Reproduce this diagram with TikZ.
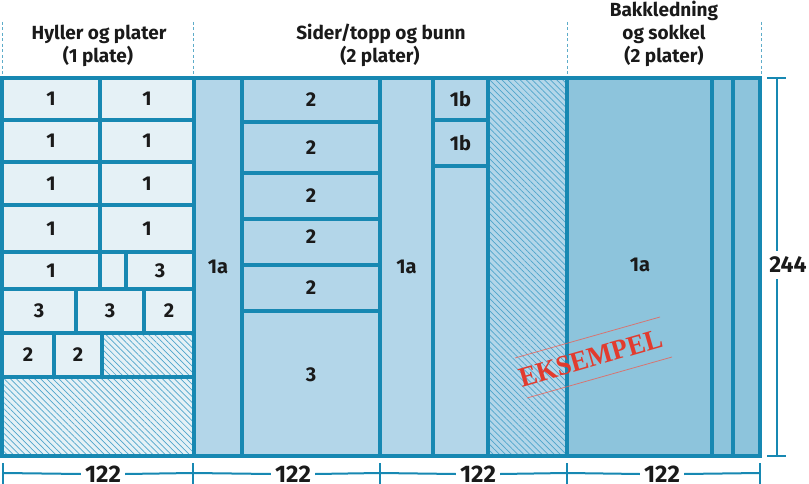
\documentclass[tikz,border=0pt]{standalone}
\usepackage{fontspec}
\setmainfont{Fira Sans}
\newfontfamily\stampfont{Liberation Serif}
\usetikzlibrary{patterns.meta}
\definecolor{edge}{HTML}{1788B2}
\definecolor{pone}{HTML}{E5F1F6}
\definecolor{ptwo}{HTML}{B3D6E9}
\definecolor{pfour}{HTML}{8DC4DC}
\definecolor{hatchc}{HTML}{4FA5CB}
\definecolor{ink}{HTML}{1A1A1A}
\definecolor{stampred}{HTML}{E23B2E}
\newcommand\cutpiece[7]{%
  \filldraw[piece,fill=#6] (#2,#3) rectangle (#4,#5);
  \node[lbl] (#1) at ({(#2+#4)/2},{(#3+#5)/2}) {#7};}
\newcommand\hatchpiece[6]{%
  \fill[#6] (#2,#3) rectangle (#4,#5);
  \path[pattern={Lines[angle=-45,distance=4.3pt,line width=0.7pt]},pattern color=hatchc] (#2,#3) rectangle (#4,#5);
  \draw[piece] (#2,#3) rectangle (#4,#5);
  \coordinate (#1) at ({(#2+#4)/2},{(#3+#5)/2});}
\begin{document}
\begin{tikzpicture}[x=1pt,y=-1pt,
  piece/.style={draw=edge,line width=3.2pt},
  lbl/.style={text=ink,font=\bfseries\fontsize{20}{22}\selectfont,inner sep=0pt},
  head/.style={text=ink,font=\bfseries\fontsize{19}{22}\selectfont,anchor=base,inner sep=0pt},
  dim/.style={draw=edge,line width=2pt},
  dimlbl/.style={text=ink,font=\bfseries\fontsize{24}{26}\selectfont,fill=white,inner xsep=4pt,inner ysep=2pt},
  guide/.style={draw=edge!70,line width=0.7pt,dash pattern=on 3pt off 2.5pt}]
\useasboundingbox (0,0) rectangle (809,484);
\fill[white] (0,0) rectangle (809,484);
% header guides
\foreach \gx in {2,193,567,761} \draw[guide] (\gx,22) -- (\gx,76);
% headers
\node[head] (hA1) at (99,40) {Hyller og plater};
\node[head] (hA2) at (98,63) {(1 plate)};
\node[head] (hB1) at (381,40) {Sider/topp og bunn};
\node[head] (hB2) at (380,63) {(2 plater)};
\node[head] (hC1) at (664,17) {Bakkledning};
\node[head] (hC2) at (664,40) {og sokkel};
\node[head] (hC3) at (664,63) {(2 plater)};
% plate 1
\cutpiece{a11}{2}{78}{100}{120}{pone}{1}
\cutpiece{a12}{100}{78}{194}{120}{pone}{1}
\cutpiece{a21}{2}{120}{100}{162}{pone}{1}
\cutpiece{a22}{100}{120}{194}{162}{pone}{1}
\cutpiece{a31}{2}{162}{100}{205}{pone}{1}
\cutpiece{a32}{100}{162}{194}{205}{pone}{1}
\cutpiece{a41}{2}{205}{100}{252}{pone}{1}
\cutpiece{a42}{100}{205}{194}{252}{pone}{1}
\cutpiece{a51}{2}{252}{100}{289}{pone}{1}
\cutpiece{a52}{100}{252}{126}{289}{pone}{}
\cutpiece{a53}{126}{252}{194}{289}{pone}{3}
\cutpiece{a61}{2}{289}{76}{333}{pone}{3}
\cutpiece{a62}{76}{289}{144}{333}{pone}{3}
\cutpiece{a63}{144}{289}{194}{333}{pone}{2}
\cutpiece{a71}{2}{333}{54}{377}{pone}{2}
\cutpiece{a72}{54}{333}{102}{377}{pone}{2}
\hatchpiece{a73}{102}{333}{194}{377}{pone}
\hatchpiece{a81}{2}{377}{194}{456}{pone}
% plate 2
\cutpiece{b1}{194}{78}{242}{456}{ptwo}{1a}
\cutpiece{b21}{242}{78}{380}{122}{ptwo}{2}
\cutpiece{b22}{242}{122}{380}{173}{ptwo}{2}
\cutpiece{b23}{242}{173}{380}{219}{ptwo}{2}
\filldraw[piece,fill=ptwo] (242,219) rectangle (380,265);
\node[lbl] (b24) at (311,237) {2};
\cutpiece{b25}{242}{265}{380}{311}{ptwo}{2}
\filldraw[piece,fill=ptwo] (242,311) rectangle (380,456);
\node[lbl] (b26) at (311,375) {3};
% plate 3
\cutpiece{c1}{380}{78}{433}{456}{ptwo}{1a}
\cutpiece{c21}{433}{78}{488}{120}{ptwo}{1b}
\cutpiece{c22}{433}{120}{488}{166}{ptwo}{1b}
\cutpiece{c23}{433}{166}{488}{456}{ptwo}{}
\hatchpiece{c3}{488}{78}{567}{456}{ptwo}
% plate 4
\filldraw[piece,fill=pfour] (567,78) rectangle (712,456);
\node[lbl] (d1) at (640,265) {1a};
\cutpiece{d2}{712}{78}{733}{456}{pfour}{}
\cutpiece{d3}{733}{78}{760}{456}{pfour}{}
% bottom dimension
\foreach \tx/\tn in {3/t0,193/t1,380/t2,567/t3,760/t4}{
  \coordinate (\tn) at (\tx,473);
  \draw[dim] (\tx,463) -- (\tx,484);}
\node[dimlbl] (w1) at (103,474) {122};
\node[dimlbl] (w2) at (293,474) {122};
\node[dimlbl] (w3) at (478,474) {122};
\node[dimlbl] (w4) at (662,474) {122};
\draw[dim] (t0) -- (w1.west);
\draw[dim] (w1.east) -- (t1) -- (w2.west);
\draw[dim] (w2.east) -- (t2) -- (w3.west);
\draw[dim] (w3.east) -- (t3) -- (w4.west);
\draw[dim] (w4.east) -- (t4);
% right dimension
\coordinate (htop) at (777,78);
\coordinate (hbot) at (777,456);
\draw[dim] (767,78) -- (786,78);
\draw[dim] (767,456) -- (786,456);
\node[text=ink,font=\bfseries\fontsize{23}{25}\selectfont,inner xsep=0pt,inner ysep=6pt] (hgt) at (788,265) {244};
\draw[dim] (htop) -- (htop |- hgt.north);
\draw[dim] (htop |- hgt.south) -- (hbot);
% stamp
\node[text=stampred,font=\stampfont\bfseries\fontsize{28}{30}\selectfont,rotate=16,inner sep=0pt,xscale=0.95] (stamp) at (591,358) {EKSEMPEL};
\draw[stampred!80,line width=0.8pt,opacity=0.8] (515,358) -- (660,317);
\draw[stampred!80,line width=0.8pt,opacity=0.8] (527,398) -- (672,357);
\end{tikzpicture}
\end{document}
